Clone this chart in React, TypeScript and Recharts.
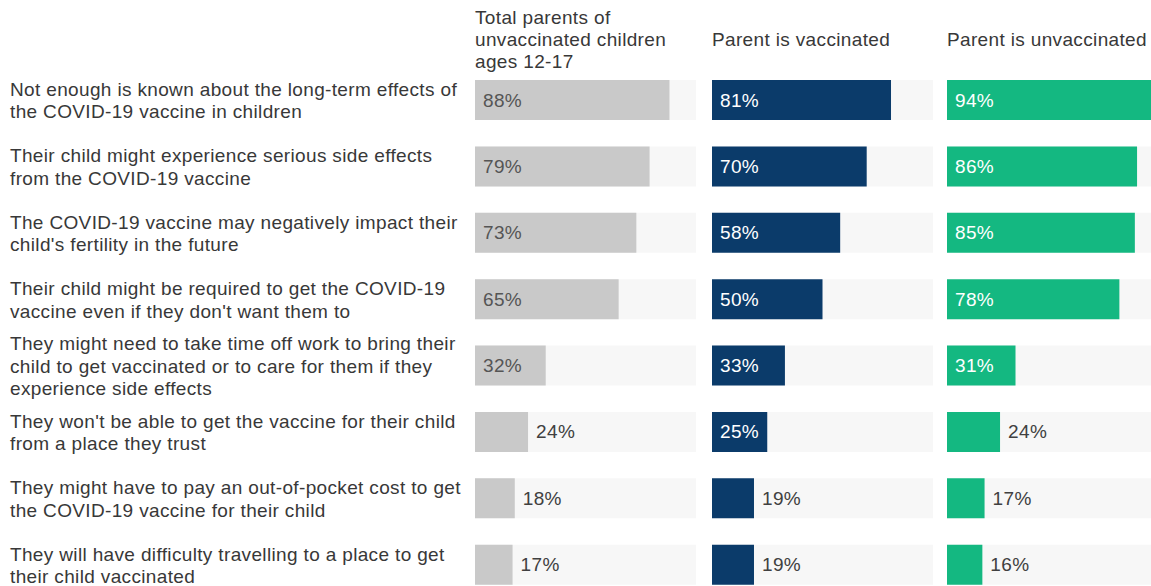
import React from "react";
import { BarChart, Bar, XAxis, YAxis, LabelList } from "recharts";

const reasons = [
  "Not enough is known about the long-term effects of\nthe COVID-19 vaccine in children",
  "Their child might experience serious side effects\nfrom the COVID-19 vaccine",
  "The COVID-19 vaccine may negatively impact their\nchild's fertility in the future",
  "Their child might be required to get the COVID-19\nvaccine even if they don't want them to",
  "They might need to take time off work to bring their\nchild to get vaccinated or to care for them if they\nexperience side effects",
  "They won't be able to get the vaccine for their child\nfrom a place they trust",
  "They might have to pay an out-of-pocket cost to get\nthe COVID-19 vaccine for their child",
  "They will have difficulty travelling to a place to get\ntheir child vaccinated",
];

const totalParents = [88, 79, 73, 65, 32, 24, 18, 17];
const parentVaccinated = [81, 70, 58, 50, 33, 25, 19, 19];
const parentUnvaccinated = [94, 86, 85, 78, 31, 24, 17, 16];

const panelTitles = [
  "Total parents of\nunvaccinated children\nages 12-17",
  "Parent is vaccinated",
  "Parent is unvaccinated",
];

const rows = reasons.map((reason, i) => ({
  reason,
  total: totalParents[i],
  vacc: parentVaccinated[i],
  unvacc: parentUnvaccinated[i],
}));

const font = "'Liberation Sans', Arial, sans-serif";
const textStyle = { fontFamily: font, fontSize: 19, letterSpacing: 0.35 };

const ReasonTick = (props: any) => {
  const { y, payload } = props;
  const lines = String(payload.value).split("\n");
  const start = -((lines.length - 1) * 22.5) / 2;
  return (
    <text
      x={10}
      y={y}
      fill="#383838"
      style={textStyle}
      dominantBaseline="central"
    >
      {lines.map((l: string, i: number) => (
        <tspan key={i} x={10} y={y + start + i * 22.5}>
          {l}
        </tspan>
      ))}
    </text>
  );
};

const makeLabel = (insideColor: string) => (props: any) => {
  const { x, y, width, height, value } = props;
  const inside = value >= 25;
  return (
    <text
      x={inside ? x + 8 : x + width + 8}
      y={y + height / 2}
      fill={inside ? insideColor : "#404040"}
      style={textStyle}
      dominantBaseline="central"
    >
      {value}%
    </text>
  );
};

const panels = [
  { key: "total", color: "#c9c9c9", labelColor: "#555555", left: 0, axisWidth: 475 },
  { key: "vacc", color: "#0b3b6a", labelColor: "#ffffff", left: 712, axisWidth: 0 },
  { key: "unvacc", color: "#14b881", labelColor: "#ffffff", left: 947, axisWidth: 0 },
];

const plotWidth = 221;

export default function App() {
  return (
    <div
      style={{
        position: "absolute",
        left: 0,
        top: 0,
        width: 1151,
        height: 586,
        overflow: "hidden",
        background: "#ffffff",
      }}
    >
      {panels.map((p, idx) => (
        <div
          key={p.key}
          style={{ position: "absolute", left: p.left, top: 0 }}
        >
          <div
            style={{
              position: "absolute",
              left: p.axisWidth,
              top: 0,
              width: 240,
              height: 80,
              display: "flex",
              alignItems: "center",
              whiteSpace: "pre",
              lineHeight: "22px",
              color: "#383838",
              ...textStyle,
            }}
          >
            {panelTitles[idx]}
          </div>
          <BarChart
            width={p.axisWidth + plotWidth}
            height={598}
            data={rows}
            layout="vertical"
            margin={{ top: 67, right: 0, bottom: 0, left: 0 }}
          >
            <XAxis type="number" domain={[0, 100]} hide />
            <YAxis
              type="category"
              dataKey="reason"
              width={p.axisWidth}
              hide={p.axisWidth === 0}
              axisLine={false}
              tickLine={false}
              tick={<ReasonTick />}
              interval={0}
            />
            <Bar
              dataKey={p.key}
              fill={p.color}
              barSize={40}
              background={{ fill: "#f7f7f7" }}
              isAnimationActive={false}
            >
              <LabelList dataKey={p.key} content={makeLabel(p.labelColor)} />
            </Bar>
          </BarChart>
        </div>
      ))}
    </div>
  );
}
